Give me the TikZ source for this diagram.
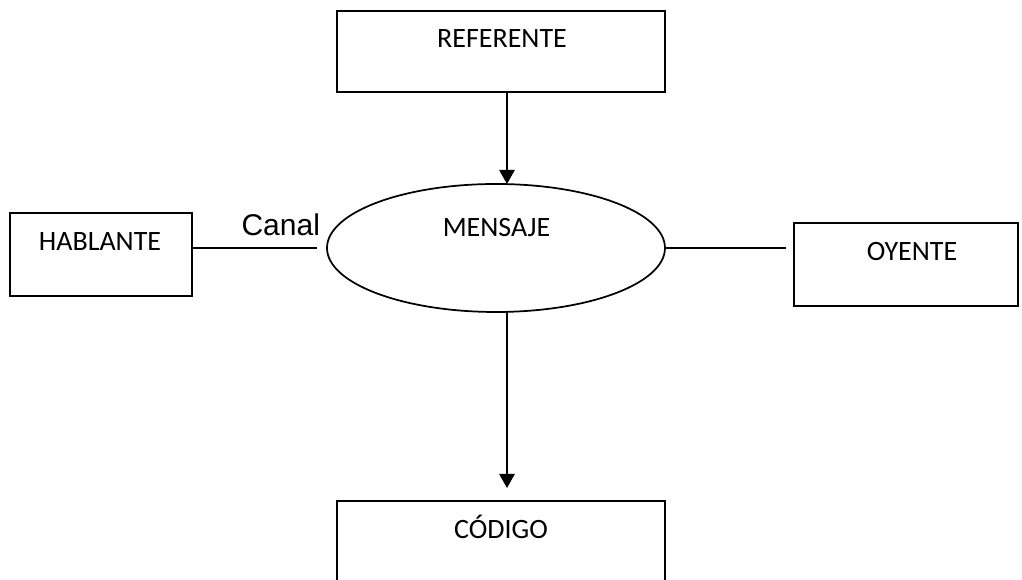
\documentclass[tikz,border=0pt]{standalone}
\usepackage{fontspec}
\setmainfont{Carlito}
\newfontfamily\arialfont{Liberation Sans}
\usetikzlibrary{arrows.meta,shapes.geometric}

\begin{document}
\begin{tikzpicture}[x=0.75pt, y=0.75pt, line width=1.3pt,
    caja/.style={draw, rectangle, inner sep=0pt, outer sep=0pt},
    texto/.style={font=\fontsize{21}{25}\selectfont, anchor=base},
    flecha/.style={-{Triangle[width=11.5pt,length=10.5pt]}}]

    % Keep only the visible page
    \clip (0,0) rectangle (1022,580);

    % Draw the boxes
    \node[caja, minimum width=246pt, minimum height=60.75pt] (referente) at (501,528.5) {};
    \node[caja, minimum width=136.5pt, minimum height=62.25pt] (hablante) at (101,325.5) {};
    \node[caja, minimum width=168pt, minimum height=62.25pt] (oyente) at (906,315.5) {};
    \node[caja, minimum width=246pt, minimum height=60.75pt] (codigo) at (501,38.5) {};

    % Draw the message ellipse
    \node[draw, ellipse, minimum width=253.5pt, minimum height=96pt,
          inner sep=0pt, outer sep=0pt] (mensaje) at (496,332) {};

    % Texts
    \node[texto] (referente-txt) at (502,532) {REFERENTE};
    \node[texto] (hablante-txt) at (100,329) {HABLANTE};
    \node[texto] (oyente-txt) at (912,319) {OYENTE};
    \node[texto] (codigo-txt) at (501,41) {CÓDIGO};
    \node[texto] (mensaje-txt) at (496.5,343) {MENSAJE};

    % Arrows down to and from the message
    \draw[flecha] ([xshift=4.5pt]referente.south) -- ([xshift=8.25pt]mensaje.north);
    \draw[flecha, shorten >=9.75pt] ([xshift=8.25pt]mensaje.south) -- ([xshift=4.5pt]codigo.north);

    % Channel lines
    \draw (hablante.east |- mensaje.west) -- node[pos=0.71, above, inner sep=8.25pt,
          font=\arialfont\fontsize{22.5}{27}\selectfont] (canal) {Canal} ([xshift=-7.5pt]mensaje.west);
    \draw (mensaje.east) -- ([xshift=-6pt]oyente.west |- mensaje.east);

\end{tikzpicture}
\end{document}
